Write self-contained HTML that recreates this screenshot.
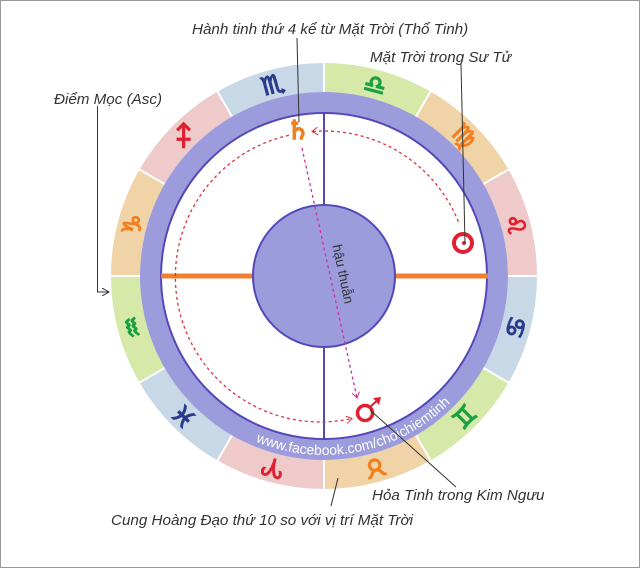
<!DOCTYPE html>
<html><head><meta charset="utf-8"><style>
html,body{margin:0;padding:0;background:#fff}
svg{display:block}
.lb{font-family:"Liberation Sans",sans-serif;font-style:italic;font-size:15.2px;fill:#333}
.zg{font-family:"DejaVu Sans",sans-serif;font-size:25px;text-anchor:middle;dominant-baseline:central;stroke-width:1.3}
</style></head><body>
<svg width="640" height="568" viewBox="0 0 640 568" xmlns="http://www.w3.org/2000/svg">
<defs>
<marker id="ar" markerWidth="8" markerHeight="8" refX="6" refY="4" orient="auto" markerUnits="userSpaceOnUse"><path d="M0,0 L6,4 L0,8" fill="none" stroke="#e0303c" stroke-width="1"/></marker>
<marker id="ap" markerWidth="8" markerHeight="8" refX="6" refY="4" orient="auto" markerUnits="userSpaceOnUse"><path d="M0,0 L6,4 L0,8" fill="none" stroke="#d0309a" stroke-width="1"/></marker>
<marker id="ak" markerWidth="8" markerHeight="8" refX="7" refY="4" orient="auto" markerUnits="userSpaceOnUse"><path d="M0,0 L7,4 L0,8" fill="none" stroke="#333" stroke-width="1"/></marker>
<path id="wm" d="M248.4,438.2 A179,179 0 0 0 479,365.5" fill="none"/>
</defs>
<rect x="0.5" y="0.5" width="639" height="567" fill="#fff" stroke="#999"/>
<g fill="none" stroke-width="29">
<circle cx="324" cy="276" r="198.5" stroke="#c8d8e6" stroke-dasharray="103.93 311.8" stroke-dashoffset="0"/>
<circle cx="324" cy="276" r="198.5" stroke="#d6e9a8" stroke-dasharray="103.93 311.8" stroke-dashoffset="-103.93"/>
<circle cx="324" cy="276" r="198.5" stroke="#f0d4a8" stroke-dasharray="103.93 311.8" stroke-dashoffset="-207.86"/>
<circle cx="324" cy="276" r="198.5" stroke="#eecaca" stroke-dasharray="103.93 311.8" stroke-dashoffset="-311.8"/>
</g>
<g stroke="#fff" stroke-width="2">
<line x1="537" y1="276" x2="111" y2="276"/>
<line x1="508.5" y1="382.5" x2="139.5" y2="169.5"/>
<line x1="430.5" y1="460.5" x2="217.5" y2="91.5"/>
<line x1="324" y1="489" x2="324" y2="63"/>
<line x1="217.5" y1="460.5" x2="430.5" y2="91.5"/>
<line x1="139.5" y1="382.5" x2="508.5" y2="169.5"/>
</g>
<circle cx="324" cy="276" r="173.5" fill="none" stroke="#9c9cdc" stroke-width="21"/>
<circle cx="324" cy="276" r="163" fill="#fff" stroke="#5548b8" stroke-width="2"/>
<text class="zg" fill="#2a3a8c" stroke="#2a3a8c" transform="translate(515.3,327.3) rotate(105)">♋</text>
<text class="zg" fill="#1aa040" stroke="#1aa040" transform="translate(464,416) rotate(135)">♊</text>
<text class="zg" fill="#f08020" stroke="#f08020" transform="translate(375.2,467.3) rotate(165)">♉</text>
<text class="zg" fill="#e02030" stroke="#e02030" transform="translate(272.8,467.3) rotate(195)">♈</text>
<text class="zg" fill="#2a3a8c" stroke="#2a3a8c" transform="translate(184,416) rotate(225)">♓</text>
<text class="zg" fill="#1aa040" stroke="#1aa040" transform="translate(132.7,327.3) rotate(255)">♒</text>
<text class="zg" fill="#f08020" stroke="#f08020" transform="translate(132.7,224.7) rotate(285)">♑</text>
<text class="zg" fill="#e02030" stroke="#e02030" transform="translate(184,136) rotate(315)">♐</text>
<text class="zg" fill="#2a3a8c" stroke="#2a3a8c" transform="translate(272.8,84.7) rotate(345)">♏</text>
<text class="zg" fill="#1aa040" stroke="#1aa040" transform="translate(375.2,84.7) rotate(15)">♎</text>
<text class="zg" fill="#f08020" stroke="#f08020" transform="translate(464,136) rotate(45)">♍</text>
<text class="zg" fill="#e02030" stroke="#e02030" transform="translate(515.3,224.7) rotate(75)">♌</text>
<text font-family="Liberation Sans,sans-serif" font-size="14" fill="#fff"><textPath href="#wm" startOffset="8">www.facebook.com/choichiemtinh</textPath></text>
<line x1="161" y1="276" x2="488" y2="276" stroke="#f08030" stroke-width="5"/>
<line x1="324" y1="113" x2="324" y2="438" stroke="#5548b8" stroke-width="2"/>
<circle cx="324" cy="276" r="71" fill="#9c9cdc" stroke="#5548b8" stroke-width="2"/>
<path d="M458.4,221.7 A145,145 0 0 0 312,131.5" fill="none" stroke="#e0303c" stroke-width="1.3" stroke-dasharray="3 3" marker-end="url(#ar)"/>
<path d="M288.9,135.3 A145,145 0 0 0 352,418.5" fill="none" stroke="#e0303c" stroke-width="1.3" stroke-dasharray="3 3" marker-end="url(#ar)"/>
<line x1="302" y1="148" x2="357" y2="398" stroke="#d0309a" stroke-width="1.3" stroke-dasharray="3 3" marker-end="url(#ap)"/>
<text font-family="Liberation Sans,sans-serif" font-size="13.5" fill="#333" text-anchor="middle" dominant-baseline="central" transform="translate(343,274) rotate(78)">hậu thuẫn</text>
<text x="298" y="131" font-family="DejaVu Sans,sans-serif" font-size="26" fill="#f08020" stroke="#f08020" stroke-width="1.5" text-anchor="middle" dominant-baseline="central">♄</text>
<circle cx="463" cy="243" r="9" fill="#fff" stroke="#e02030" stroke-width="4"/>
<circle cx="464" cy="243" r="2" fill="#e02030"/>
<circle cx="365" cy="413" r="7.5" fill="none" stroke="#e02030" stroke-width="3.5"/>
<line x1="370" y1="407" x2="380" y2="398" stroke="#e02030" stroke-width="2"/>
<path d="M373,398 L381,397 L379,405" fill="#e02030"/>
<g stroke="#333" stroke-width="1" fill="none">
<line x1="297" y1="38" x2="299" y2="122"/>
<line x1="461" y1="64" x2="465" y2="243"/>
<polyline points="97.5,106 97.5,292 109,292" marker-end="url(#ak)"/>
<line x1="370" y1="410" x2="456" y2="487"/>
<line x1="331" y1="506" x2="338" y2="478"/>
</g>
<text class="lb" x="192" y="34">Hành tinh thứ 4 kể từ Mặt Trời (Thổ Tinh)</text>
<text class="lb" x="370" y="62">Mặt Trời trong Sư Tử</text>
<text class="lb" x="54" y="104">Điểm Mọc (Asc)</text>
<text class="lb" x="372" y="500">Hỏa Tinh trong Kim Ngưu</text>
<text class="lb" x="111" y="525">Cung Hoàng Đạo thứ 10 so với vị trí Mặt Trời</text>
</svg>
</body></html>
